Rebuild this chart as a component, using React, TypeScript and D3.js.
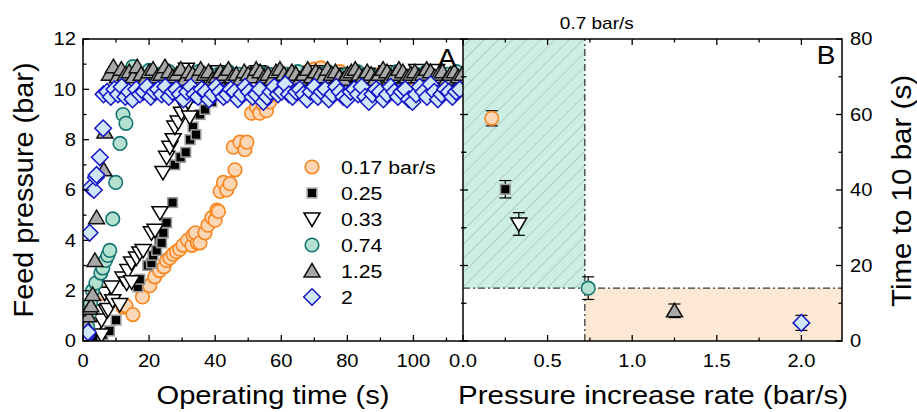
import React from 'react';
import * as d3 from 'd3';

// panel A: operating time (s) vs feed pressure (bar), one list per ramp rate
const s017: [number, number][] = [
  [1, 0.2], [2.5, 0.4], [4, 0.7], [6, 1.9], [12.1, 1.35], [13, 1.4], [15.1, 1.05], [18, 1.75],
  [20.2, 2.2], [21.7, 2.55], [23.2, 2.8], [24.5, 2.95], [25.3, 3.2], [26.3, 3.3], [27.3, 3.45],
  [28.3, 3.55], [29.3, 3.65], [30.3, 3.8], [31.7, 4.0], [33, 3.8], [33.3, 4.2], [34.6, 3.9],
  [34, 4.3], [35.4, 3.9], [36.9, 4.3], [37.8, 4.6], [39, 4.9], [40, 4.8], [40.5, 5.2], [41, 5.15],
  [41.5, 5.95], [42.5, 6.3], [43.5, 6.0], [44.5, 6.25], [46, 6.8], [45.5, 7.7], [47.5, 7.9],
  [49, 7.6], [49.6, 7.9], [51, 9.05], [52.5, 9.3], [53.5, 9.05], [54.5, 9.4], [55.5, 9.15],
  [56.5, 9.5], [58, 9.8], [60, 10.3], [62, 10.5], [64, 10.6], [66, 10.4], [68, 10.7], [70, 10.8],
  [72, 10.85], [74, 10.6], [76, 10.5], [77.8, 10.7], [80, 10.6], [82, 10.5], [83.3, 10.65],
  [86, 10.4], [88, 10.5], [90, 10.6], [92, 10.3], [94, 10.0], [96, 10.5], [98, 10.4], [100, 10.6],
  [102, 10.5], [104, 10.4], [107.5, 10.7], [110, 10.5], [112, 10.6], [114, 10.4],
];

const s025: [number, number][] = [
  [0.5, 0.05], [2, 0.1], [4, 0.15], [6, 0.25], [8, 0.4], [10, 0.83], [16.6, 2.15], [17.2, 2.45],
  [19.6, 3.0], [20.7, 3.1], [21.2, 3.4], [22.3, 3.6], [23.2, 4.0], [23.8, 3.9], [24.3, 4.3],
  [25.3, 4.7], [27.1, 5.5], [27.8, 7.0], [29.5, 7.3], [31.1, 7.5], [32.4, 8.0], [33.3, 8.5],
  [34.2, 8.2], [35.4, 9.0], [36.9, 9.2], [39, 9.5], [40.5, 9.8], [42, 10.2], [44, 10.3],
  [46.5, 10.4], [49, 10.3], [51.5, 10.5], [54, 10.4], [56.5, 10.3], [59, 10.5], [61.5, 10.4],
  [64, 10.3], [66.5, 10.5], [69, 10.4], [71.5, 10.3], [74, 10.4], [76.5, 10.5], [79, 10.3],
  [81.5, 10.4], [84, 10.5], [86.5, 10.3], [89, 10.4], [91.5, 10.5], [94, 10.3], [96.5, 10.4],
  [99, 10.5], [101.5, 10.3], [104, 10.4], [106.5, 10.5], [109, 10.3], [111.5, 10.4], [114, 10.5],
];

const s033: [number, number][] = [
  [0.5, 0.1], [2, 0.15], [4.1, 0.56], [5.6, 0.24], [5.6, 0.83], [6.6, 1.9], [7.1, 1.2], [7.6, 1.25],
  [8.6, 2.15], [9, 1.6], [11.1, 1.45], [12.1, 2.5], [13.2, 2.3], [13.6, 2.8], [14.7, 2.35],
  [14.7, 3.1], [16.2, 3.3], [17.2, 3.5], [18.2, 3.6], [20.7, 4.3], [21.8, 4.4], [23.3, 5.1],
  [24.2, 6.7], [25.3, 7.3], [26.3, 7.7], [27.3, 8.0], [27.8, 8.5], [28.8, 8.7], [29.8, 9.05],
  [30.8, 9.3], [31.8, 9.5], [32.3, 8.9], [33.5, 9.8], [35, 10.3], [31.3, 10.8], [36, 10.6],
  [38, 10.5], [41, 10.7], [44, 10.6], [47, 10.5], [50, 10.6], [53, 10.7], [56, 10.5], [59, 10.6],
  [62, 10.4], [65, 10.6], [68, 10.5], [71, 10.7], [74, 10.6], [77, 10.5], [80, 10.6], [83, 10.4],
  [86, 10.6], [89, 10.5], [92, 10.7], [95, 10.6], [98, 10.5], [101, 10.75], [104, 10.4],
  [107, 10.75], [110, 10.5], [113, 10.6],
];

const s074: [number, number][] = [
  [0.5, 0.1], [1, 0.3], [1.4, 0.56], [2, 1.1], [2.3, 1.5], [2.9, 2.0], [3.9, 2.3], [5.4, 2.7],
  [6, 2.9], [6.8, 3.2], [7.5, 3.4], [8.1, 3.6], [9, 4.85], [9.9, 6.3], [11.2, 7.85], [12.1, 9.0],
  [13, 8.65], [15.1, 10.9], [17, 10.6], [20, 10.75], [23, 10.6], [26, 10.7], [29, 10.5], [32, 10.6],
  [35, 10.7], [38, 10.5], [41, 10.6], [44, 10.7], [47, 10.6], [50, 10.5], [53, 10.7], [56, 10.6],
  [59, 10.5], [62, 10.6], [65, 10.7], [68, 10.5], [71, 10.6], [74, 10.7], [77, 10.5], [80, 10.6],
  [83, 10.7], [86, 10.6], [89, 10.5], [92, 10.6], [95, 10.7], [98, 10.5], [101, 10.6], [104, 10.7],
  [107, 10.5], [110, 10.6], [113, 10.7],
];

const s125: [number, number][] = [
  [0.5, 0.2], [1, 0.6], [1.5, 1.0], [2, 1.3], [2.4, 1.4], [2.9, 1.85], [3.6, 3.2], [4.1, 4.9],
  [6.3, 6.8], [6.6, 8.3], [8, 10.6], [9.2, 10.9], [10.4, 10.5], [11.6, 10.8], [12.8, 10.6],
  [14, 10.7], [15.2, 10.5], [16.4, 10.9], [17.6, 10.6], [18.8, 10.4], [20, 10.7], [21.2, 10.8],
  [22.4, 10.5], [23.6, 10.6], [24.8, 10.9], [26, 10.7], [27.2, 10.5], [28.4, 10.6], [29.6, 10.8],
  [30.8, 10.4], [32, 10.7], [33.2, 10.6], [34.4, 10.5], [35.6, 10.8], [36.8, 10.6], [38, 10.7],
  [39.2, 10.4], [40.4, 10.5], [41.6, 10.7], [42.8, 10.6], [44, 10.8], [45.2, 10.5], [46.4, 10.6],
  [47.6, 10.4], [48.8, 10.7], [50, 10.6], [51.2, 10.5], [52.4, 10.8], [53.6, 10.7], [54.8, 10.5],
  [56, 10.6], [57.2, 10.4], [58.4, 10.7], [59.6, 10.8], [60.8, 10.6], [62, 10.5], [63.2, 10.7],
  [64.4, 10.6], [65.6, 10.4], [66.8, 10.6], [68, 10.8], [69.2, 10.5], [70.4, 10.7], [71.6, 10.6],
  [72.8, 10.5], [74, 10.8], [75.2, 10.6], [76.4, 10.7], [77.6, 10.5], [78.8, 10.4], [80, 10.6],
  [81.2, 10.7], [82.4, 10.8], [83.6, 10.6], [84.8, 10.5], [86, 10.7], [87.2, 10.6], [88.4, 10.4],
  [89.6, 10.6], [90.8, 10.8], [92, 10.7], [93.2, 10.5], [94.4, 10.6], [95.6, 10.8], [96.8, 10.7],
  [98, 10.5], [99.2, 10.6], [100.4, 10.7], [101.6, 10.5], [102.8, 10.6], [104, 10.8], [105.2, 10.7],
  [106.4, 10.5], [107.6, 10.6], [108.8, 10.7], [110, 10.4], [111.2, 10.6], [112.4, 10.7],
  [113.6, 10.5], [114.8, 10.6],
];

const s200: [number, number][] = [
  [0.5, 0.1], [1, 0.2], [1.5, 0.35], [2, 4.3], [2.3, 6.1], [3.3, 6.0], [3.9, 6.5], [4.1, 6.6],
  [5.1, 7.3], [6.1, 8.45], [6.2, 9.8], [7.3, 9.9], [8.4, 9.7], [9.5, 10.0], [10.6, 9.8], [11.7, 10.1],
  [12.8, 9.7], [13.9, 9.9], [15, 9.6], [16.1, 10.0], [17.2, 9.8], [18.3, 9.9], [19.4, 10.1],
  [20.5, 9.7], [21.6, 9.9], [22.7, 10.0], [23.8, 9.8], [24.9, 10.1], [26, 9.7], [27.1, 9.9],
  [28.2, 10.0], [29.3, 9.8], [30.4, 9.6], [31.5, 9.9], [32.6, 10.1], [33.7, 9.8], [34.8, 9.7],
  [35.9, 10.0], [37, 9.9], [38.1, 9.6], [39.2, 9.8], [40.3, 10.1], [41.4, 9.9], [42.5, 9.7],
  [43.6, 9.8], [44.7, 10.0], [45.8, 9.9], [46.9, 9.6], [48, 9.8], [49.1, 10.1], [50.2, 9.9],
  [51.3, 9.7], [52.4, 9.8], [53.5, 10.0], [54.6, 9.5], [55.7, 9.7], [56.8, 9.9], [57.9, 10.1],
  [59, 9.8], [60.1, 9.9], [61.2, 10.2], [62.3, 9.8], [63.4, 9.7], [64.5, 9.9], [65.6, 10.0],
  [66.7, 9.8], [67.8, 9.6], [68.9, 9.9], [70, 10.1], [71.1, 9.7], [72.2, 9.9], [73.3, 10.0],
  [74.4, 9.6], [75.5, 9.8], [76.6, 10.1], [77.7, 9.9], [78.8, 9.7], [79.9, 9.6], [81, 9.9],
  [82.1, 10.0], [83.2, 9.8], [84.3, 10.1], [85.4, 9.7], [86.5, 9.5], [87.6, 9.8], [88.7, 10.0],
  [89.8, 9.9], [90.9, 9.6], [92, 9.8], [93.1, 10.1], [94.2, 9.9], [95.3, 9.7], [96.4, 9.9],
  [97.5, 10.0], [98.6, 9.6], [99.7, 9.5], [100.8, 9.8], [101.9, 10.1], [103, 9.9], [104.1, 9.7],
  [105.2, 10.2], [106.3, 9.9], [107.4, 9.6], [108.5, 9.8], [109.6, 10.0], [110.7, 9.9],
  [111.8, 9.7], [112.9, 9.9], [114, 10.0],
];

// panel B: time to reach 10 bar
const rates = [0.17, 0.25, 0.33, 0.74, 1.25, 2];
const timeTo10 = [59, 40.2, 31, 14, 8, 4.8];
const timeErr = [2, 2.3, 3, 3, 1.8, 2];
const threshRate = 0.72;
const threshTime = 14;

const legendLabels = ['0.17 bar/s', '0.25', '0.33', '0.74', '1.25', '2'];
const xTicksA = [0, 20, 40, 60, 80, 100];
const yTicksA = [0, 2, 4, 6, 8, 10, 12];
const xTicksB = [0, 0.5, 1, 1.5, 2];
const yTicksB = [0, 20, 40, 60, 80];

const styles = [
  { shape: 'circle', fill: '#fdd6b6', stroke: '#f7861e' },
  { shape: 'square', fill: '#000000', stroke: '#9a9a9a' },
  { shape: 'tdown', fill: '#ffffff', stroke: '#000000' },
  { shape: 'circle', fill: '#b5e1d1', stroke: '#137472' },
  { shape: 'tup', fill: '#a8a8a8', stroke: '#111111' },
  { shape: 'diamond', fill: '#cfe7f9', stroke: '#1515c8' },
];
const seriesData = [s017, s025, s033, s074, s125, s200];

const FONT = '"Liberation Sans", Arial, sans-serif';

const Marker = ({ x, y, i }: { x: number; y: number; i: number }) => {
  const st = styles[i];
  if (st.shape === 'circle')
    return <circle cx={x} cy={y} r={6.8} fill={st.fill} stroke={st.stroke} strokeWidth={1.6} />;
  if (st.shape === 'square')
    return <rect x={x - 4.8} y={y - 4.8} width={9.6} height={9.6} fill={st.fill} stroke={st.stroke} strokeWidth={1.6} />;
  let d = '';
  if (st.shape === 'tup') d = `M${x},${y - 7.5} L${x + 8},${y + 6} L${x - 8},${y + 6} Z`;
  if (st.shape === 'tdown') d = `M${x},${y + 7.5} L${x + 8},${y - 6} L${x - 8},${y - 6} Z`;
  if (st.shape === 'diamond') d = `M${x},${y - 8.3} L${x + 8.3},${y} L${x},${y + 8.3} L${x - 8.3},${y} Z`;
  return <path d={d} fill={st.fill} stroke={st.stroke} strokeWidth={1.5} strokeLinejoin="miter" />;
};

// text stretched a little horizontally, like the source figure
const T = ({ x, y, size, anchor = 'start', sx = 1.12, children }:
  { x: number; y: number; size: number; anchor?: string; sx?: number; children: React.ReactNode }) => (
  <g transform={`translate(${x},${y}) scale(${sx},1)`}>
    <text x={0} y={0} dy="0.36em" fontSize={size} textAnchor={anchor as any}>{children}</text>
  </g>
);

export default function App() {
  const left = 83, mid = 463, right = 842, top = 39, bottom = 341;

  const xA = d3.scaleLinear().domain([0, 115]).range([left, mid]);
  const yA = d3.scaleLinear().domain([0, 12]).range([bottom, top]);
  const xB = d3.scaleLinear().domain([0, 2.24]).range([mid, right]);
  const yB = d3.scaleLinear().domain([0, 80]).range([bottom, top]);

  const minorXA = d3.range(10, 115, 20);
  const minorYA = d3.range(1, 12, 2);
  const minorXB = [0.25, 0.75, 1.25, 1.75];
  const minorYB = [10, 30, 50, 70];

  const tickStroke = { stroke: '#000', strokeWidth: 1.3 };

  return (
    <svg width={917} height={412} style={{ position: 'absolute', left: 0, top: 0, background: '#fff' }}
      fontFamily={FONT}>
      <defs>
        <pattern id="hatch" patternUnits="userSpaceOnUse" width={10} height={10} patternTransform="rotate(45)">
          <line x1={0} y1={0} x2={0} y2={10} stroke="#8fb0a8" strokeWidth={1} />
        </pattern>
        <clipPath id="clipA">
          <rect x={left} y={top} width={mid - left} height={bottom - top} />
        </clipPath>
      </defs>

      {/* panel B shading */}
      <rect x={xB(0)} y={yB(80)} width={xB(threshRate) - xB(0)} height={yB(threshTime) - yB(80)} fill="#cdeee5" />
      <rect x={xB(0)} y={yB(80)} width={xB(threshRate) - xB(0)} height={yB(threshTime) - yB(80)} fill="url(#hatch)" />
      <rect x={xB(threshRate)} y={yB(threshTime)} width={xB(2.24) - xB(threshRate)} height={yB(0) - yB(threshTime)} fill="#fde8d4" />
      <line x1={xB(threshRate)} x2={xB(threshRate)} y1={yB(0)} y2={yB(80)} stroke="#333d3c" strokeWidth={1.3} strokeDasharray="7,3,2,3" />
      <line x1={xB(0)} x2={xB(2.24)} y1={yB(threshTime)} y2={yB(threshTime)} stroke="#333d3c" strokeWidth={1.3} strokeDasharray="7,3,2,3" />
      <T x={xB(threshRate) + 12} y={23} size={17} anchor="middle">0.7 bar/s</T>

      {/* panel A points */}
      <g clipPath="url(#clipA)">
        {seriesData.map((s, i) => (
          <g key={i}>
            {s.map((d, j) => <Marker key={j} x={xA(d[0])} y={yA(d[1])} i={i} />)}
          </g>
        ))}
      </g>

      {/* legend */}
      {legendLabels.map((l, i) => (
        <g key={l}>
          <Marker x={312} y={167 + i * 26} i={i} />
          <T x={341} y={167 + i * 26} size={19}>{l}</T>
        </g>
      ))}

      {/* frames */}
      <rect x={left} y={top} width={right - left} height={bottom - top} fill="none" stroke="#000" strokeWidth={1.5} />
      <line x1={mid} x2={mid} y1={top} y2={bottom} stroke="#000" strokeWidth={1.5} />

      {/* panel A ticks */}
      {xTicksA.map(v => (
        <g key={'xa' + v}>
          <line x1={xA(v)} x2={xA(v)} y1={bottom} y2={bottom - 6} {...tickStroke} />
          <line x1={xA(v)} x2={xA(v)} y1={top} y2={top + 6} {...tickStroke} />
          <T x={xA(v)} y={361} size={18} anchor="middle">{v}</T>
        </g>
      ))}
      {minorXA.map(v => (
        <g key={'mxa' + v}>
          <line x1={xA(v)} x2={xA(v)} y1={bottom} y2={bottom - 3.5} {...tickStroke} />
          <line x1={xA(v)} x2={xA(v)} y1={top} y2={top + 3.5} {...tickStroke} />
        </g>
      ))}
      {yTicksA.map(v => (
        <g key={'ya' + v}>
          <line x1={left} x2={left + 6} y1={yA(v)} y2={yA(v)} {...tickStroke} />
          <T x={76} y={yA(v)} size={18} anchor="end">{v}</T>
        </g>
      ))}
      {minorYA.map(v => (
        <line key={'mya' + v} x1={left} x2={left + 3.5} y1={yA(v)} y2={yA(v)} {...tickStroke} />
      ))}

      {/* panel B ticks */}
      {xTicksB.map(v => (
        <g key={'xb' + v}>
          <line x1={xB(v)} x2={xB(v)} y1={bottom} y2={bottom - 6} {...tickStroke} />
          <line x1={xB(v)} x2={xB(v)} y1={top} y2={top + 6} {...tickStroke} />
          <T x={xB(v)} y={361} size={18} anchor="middle">{v.toFixed(1)}</T>
        </g>
      ))}
      {minorXB.map(v => (
        <g key={'mxb' + v}>
          <line x1={xB(v)} x2={xB(v)} y1={bottom} y2={bottom - 3.5} {...tickStroke} />
          <line x1={xB(v)} x2={xB(v)} y1={top} y2={top + 3.5} {...tickStroke} />
        </g>
      ))}
      {yTicksB.map(v => (
        <g key={'yb' + v}>
          <line x1={right} x2={right - 6} y1={yB(v)} y2={yB(v)} {...tickStroke} />
          <line x1={mid - 3} x2={mid + 5} y1={yB(v)} y2={yB(v)} {...tickStroke} />
          <T x={850} y={yB(v)} size={18}>{v}</T>
        </g>
      ))}
      {minorYB.map(v => (
        <g key={'myb' + v}>
          <line x1={right} x2={right - 3.5} y1={yB(v)} y2={yB(v)} {...tickStroke} />
          <line x1={mid - 2} x2={mid + 3.5} y1={yB(v)} y2={yB(v)} {...tickStroke} />
        </g>
      ))}

      {/* panel B points with error bars */}
      {rates.map((r, i) => (
        <g key={'b' + r}>
          <line x1={xB(r)} x2={xB(r)} y1={yB(timeTo10[i] - timeErr[i])} y2={yB(timeTo10[i] + timeErr[i])} stroke="#000" strokeWidth={1.2} />
          <line x1={xB(r) - 6} x2={xB(r) + 6} y1={yB(timeTo10[i] - timeErr[i])} y2={yB(timeTo10[i] - timeErr[i])} stroke="#000" strokeWidth={1.2} />
          <line x1={xB(r) - 6} x2={xB(r) + 6} y1={yB(timeTo10[i] + timeErr[i])} y2={yB(timeTo10[i] + timeErr[i])} stroke="#000" strokeWidth={1.2} />
          <Marker x={xB(r)} y={yB(timeTo10[i])} i={i} />
        </g>
      ))}

      {/* panel letters */}
      <T x={447} y={58} size={25} anchor="middle">A</T>
      <T x={826} y={55} size={25} anchor="middle">B</T>

      {/* axis titles */}
      <text x={273} y={404} fontSize={26} textAnchor="middle" textLength={233} lengthAdjust="spacingAndGlyphs">Operating time (s)</text>
      <text x={653} y={404} fontSize={26} textAnchor="middle" textLength={390} lengthAdjust="spacingAndGlyphs">Pressure increase rate (bar/s)</text>
      <text transform="translate(33,190) rotate(-90)" fontSize={28} textAnchor="middle" textLength={255} lengthAdjust="spacingAndGlyphs">Feed pressure (bar)</text>
      <text transform="translate(911,191) rotate(-90)" fontSize={28} textAnchor="middle" textLength={232} lengthAdjust="spacingAndGlyphs">Time to 10 bar (s)</text>
    </svg>
  );
}
